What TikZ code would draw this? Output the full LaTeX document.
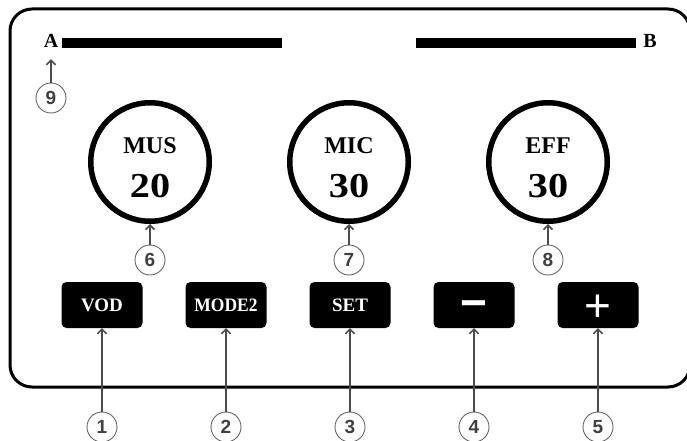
\documentclass[tikz,border=0pt]{standalone}
\usepackage{fontspec}
\setmainfont{Liberation Serif}
\setsansfont{Liberation Sans}
\newfontfamily\symfont{Liberation Sans}
\usetikzlibrary{arrows.meta}
\begin{document}
\begin{tikzpicture}[x=1pt,y=-1pt,
  panel/.style={line width=3pt, rounded corners=22pt},
  knob/.style={circle, draw, line width=5.5pt, minimum size=118.5pt, inner sep=0pt},
  knobname/.style={font=\bfseries\fontsize{24}{24}\selectfont, anchor=base, inner sep=0pt},
  knobval/.style={font=\bfseries\fontsize{35}{35}\selectfont, anchor=base, inner sep=0pt},
  keybox/.style={fill=black, rounded corners=5pt, minimum width=81pt, minimum height=46pt,
    inner sep=0pt, text=white, font=\bfseries\fontsize{19}{19}\selectfont},
  keysym/.style={text=white, inner sep=0pt, anchor=base},
  numtag/.style={circle, draw=black!60, line width=0.9pt, fill=white, minimum size=30pt,
    inner sep=0pt, text=black!75, font=\sffamily\bfseries\fontsize{19}{19}\selectfont},
  pointer/.style={draw=black!70, line width=1.6pt,
    -{Straight Barb[length=4.5pt,width=9pt,line width=1.6pt]}},
  bar/.style={fill=black, inner sep=0pt, minimum width=220pt, minimum height=10pt},
  endlabel/.style={font=\bfseries\fontsize{20}{20}\selectfont, inner sep=0pt, anchor=base}
]
\useasboundingbox (0,0) rectangle (687,441);
\clip (0,0) rectangle (687,441);

% panel outline
\draw[panel] (10,9) rectangle (690,387);

% display bars with end labels
\node[bar] (barA) at (172,43) {};
\node[bar] (barB) at (526,43) {};
\node[endlabel] (A) at (51,48) {A};
\node[endlabel] (B) at (650,48) {B};

% level knobs
\foreach \nm/\cx/\txt/\val in {mus/150/MUS/20, mic/349/MIC/30, eff/548/EFF/30}{
  \node[knob] (\nm) at (\cx,162) {};
  \node[knobname] (\nm-name) at (\cx,153) {\txt};
  \node[knobval] (\nm-val) at (\cx,197) {\scalebox{1.15}[1]{\val}};
}

% buttons
\node[keybox] (vod) at (102,305) {VOD};
\node[keybox] (mode) at (226,305) {\scalebox{0.92}[1]{MODE2}};
\node[keybox] (set) at (350,305) {SET};
\node[keybox] (minus) at (474,305) {};
\node[keybox] (plus) at (598,305) {};
\node[keysym, font=\symfont\bfseries\fontsize{46}{46}\selectfont] (minus-sym)
  at ([yshift=-13pt]minus.center) {−};
\node[keysym, font=\symfont\fontsize{46}{46}\selectfont] (plus-sym)
  at ([yshift=-16pt]plus.center) {+};

% numbered callouts
\node[numtag] (n9) at (51,98) {9};
\node[numtag] (n6) at (150,260) {6};
\node[numtag] (n7) at (349,260) {7};
\node[numtag] (n8) at (548,260) {8};
\node[numtag] (n1) at (102,427) {1};
\node[numtag] (n2) at (226,427) {2};
\node[numtag] (n3) at (350,427) {3};
\node[numtag] (n4) at (474,427) {4};
\node[numtag] (n5) at (598,427) {5};

% pointers
\draw[pointer] (n9) -- ([yshift=-11pt]A.south);
\draw[pointer] (n6) -- (mus);
\draw[pointer] (n7) -- (mic);
\draw[pointer] (n8) -- (eff);
\draw[pointer] (n1) -- (vod);
\draw[pointer] (n2) -- (mode);
\draw[pointer] (n3) -- (set);
\draw[pointer] (n4) -- (minus);
\draw[pointer] (n5) -- (plus);
\end{tikzpicture}
\end{document}
